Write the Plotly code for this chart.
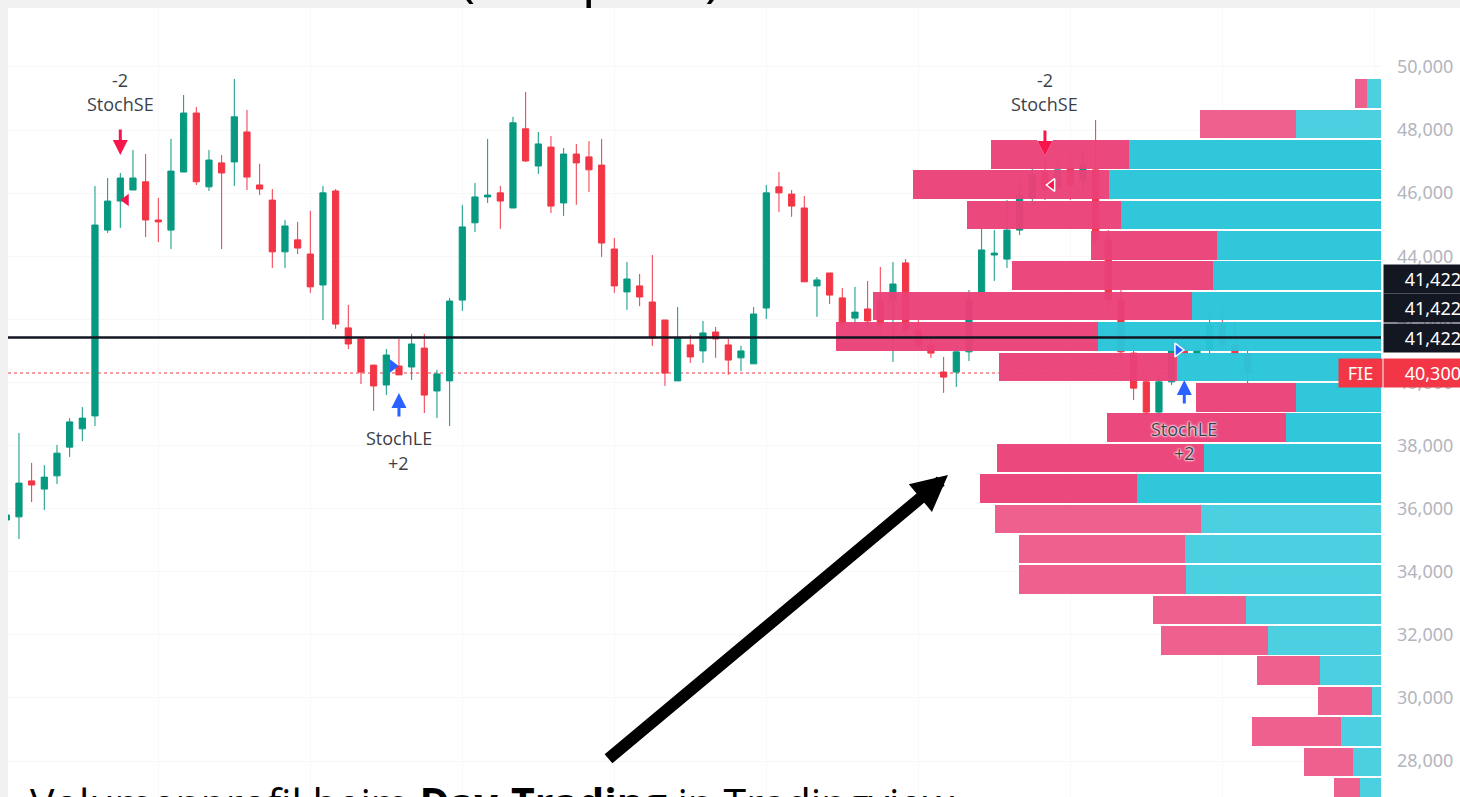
import plotly.graph_objects as go

# ---------------- candle data (price) ----------------
opens = [35640, 35740, 36880, 36620, 37040, 37950, 38530, 38940, 44830, 45750,
         46100, 46360, 45150, 44830, 46670, 48540, 46200, 46960, 46990, 47940,
         46260, 45780, 44140, 44520, 44070, 43090, 46070, 41730, 41380, 40550,
         39920, 40520, 40490, 41090, 39730, 40050, 42610, 45060, 45880, 46010,
         45530, 48040, 46860, 47460, 45690, 47240, 47150, 46890, 44230, 42870,
         43060, 42550, 41980, 40050, 41190, 41000, 41600, 41190, 40780, 40590,
         42360, 46200, 45970, 45530, 43060, 43470, 42680, 42040, 42330, 42610,
         42610, 43790, 41660, 41190, 40330, 40330, 40970, 42870, 44040, 43910,
         44830, 45850, 46670, 46160, 46800, 46420, 46740, 44520, 42610, 40930,
         40020, 39060, 40020, 41030, 40900, 41030, 41820, 41190, 40900]
highs = [35890, 38400, 37450, 37380, 38020, 38870, 39220, 46230, 46480, 46640,
         47370, 47240, 45850, 47720, 49110, 48730, 47370, 47210, 49620, 48640,
         46930, 46130, 45150, 45090, 45440, 46230, 46130, 42460, 41380, 40550,
         41060, 41380, 41540, 41540, 40400, 42680, 45630, 46320, 47720, 46230,
         48420, 49210, 47940, 47810, 47430, 47560, 47650, 47720, 44580, 43820,
         43440, 44040, 41980, 42390, 41500, 41950, 41760, 41380, 41160, 42390,
         46260, 46670, 46100, 45910, 43340, 43470, 42990, 43030, 43220, 43660,
         43820, 43910, 41980, 41500, 40810, 41190, 42930, 44900, 44830, 45780,
         46420, 46890, 47120, 47050, 47210, 47370, 48320, 44830, 42930, 41190,
         40240, 40240, 41350, 41190, 41190, 42230, 42390, 41920, 41030]
lows = [35550, 35040, 36210, 35960, 36780, 37640, 38140, 38620, 44740, 44900,
        46100, 44610, 44450, 44230, 46670, 46260, 46070, 44230, 46230, 46100,
        45940, 43630, 43630, 44070, 42840, 41980, 41700, 41060, 39950, 39100,
        39600, 40240, 40080, 39030, 38870, 38620, 42270, 44770, 45690, 44870,
        45530, 46990, 46610, 45370, 45280, 45630, 46040, 43980, 42840, 42300,
        42420, 41160, 39890, 40050, 40620, 40620, 40780, 40240, 40360, 40590,
        42010, 45400, 45250, 43190, 42080, 42490, 41600, 41890, 41660, 41500,
        40650, 41500, 41030, 40780, 39670, 39860, 40680, 42610, 43220, 43630,
        44670, 45620, 45780, 45940, 45780, 46100, 44360, 42300, 40710, 39440,
        38970, 38970, 39920, 40710, 40710, 40710, 41030, 40710, 39980]
closes = [35800, 36810, 36750, 37000, 37760, 38750, 38870, 44990, 45750, 46480,
          46480, 45150, 45090, 46700, 48540, 46360, 47050, 46640, 48420, 46510,
          46130, 44140, 44960, 44260, 43030, 46010, 41850, 41220, 40330, 39890,
          40870, 40240, 41220, 39600, 40270, 42580, 44930, 45880, 45940, 45750,
          48230, 47020, 47560, 45590, 47240, 46960, 46740, 44420, 43060, 43280,
          42710, 41410, 40300, 41410, 40810, 41570, 41380, 40710, 41000, 42170,
          46010, 46010, 45590, 43190, 43250, 42770, 41890, 42230, 41950, 41820,
          43120, 41660, 41190, 40930, 40170, 40970, 42610, 44200, 44100, 44830,
          45940, 46580, 46100, 46740, 46260, 46890, 44520, 42610, 40970, 39820,
          39060, 40020, 41030, 40900, 41030, 41820, 41190, 40900, 40300]
bar_index = list(range(len(opens)))

# ---------------- volume profile ----------------
vp_levels = [49160, 48197, 47234, 46271, 45308, 44345, 43382, 42419, 41456, 40493,
             39530, 38567, 37604, 36641, 35678, 34715, 33752, 32789, 31826, 30863,
             29900, 28937, 27974, 27011]
vp_up = [14, 85, 252, 272, 260, 164, 168, 189, 283, 204, 85, 95, 177, 244,
         180, 196, 195, 135, 113, 61, 9, 40, 28, 21]
vp_down = [12, 96, 138, 196, 154, 126, 201, 319, 262, 178, 100, 179, 207, 157,
           206, 166, 167, 93, 107, 63, 54, 89, 49, 26]
value_area = [False, False, True, True, True, True, True, True, True, True,
              True, True, True, True, False, False, False, False, False, False,
              False, False, False, False]

price_ticks = [28000, 30000, 32000, 34000, 36000, 38000, 40000, 42000, 44000,
               46000, 48000, 50000]
last_price = 40300
line_price = 41422

GREEN = "#089981"
RED = "#F23645"
up_cols = ["#29C5D9" if v else "#45CFE0" for v in value_area]
dn_cols = ["#EB4179" if v else "#EE5A8A" for v in value_area]

fig = go.Figure()

fig.add_trace(go.Candlestick(
    x=bar_index, open=opens, high=highs, low=lows, close=closes,
    increasing=dict(line=dict(color=GREEN, width=1), fillcolor=GREEN),
    decreasing=dict(line=dict(color=RED, width=1), fillcolor=RED),
    whiskerwidth=0, xaxis="x", yaxis="y", showlegend=False, hoverinfo="skip"))

fig.add_trace(go.Bar(y=vp_levels, x=vp_up, orientation="h", width=905,
                     marker=dict(color=up_cols, line=dict(width=0)), opacity=0.96,
                     xaxis="x2", yaxis="y", showlegend=False, hoverinfo="skip"))
fig.add_trace(go.Bar(y=vp_levels, x=vp_down, orientation="h", width=905,
                     marker=dict(color=dn_cols, line=dict(width=0)), opacity=0.96,
                     xaxis="x2", yaxis="y", showlegend=False, hoverinfo="skip"))

# signal markers (triangles)
fig.add_trace(go.Scatter(x=[9.45, 82.55], y=[45784, 46259], mode="markers",
                         marker=dict(symbol="triangle-left", size=11, color="#F7154B",
                                     line=dict(color=["rgba(0,0,0,0)", "white"], width=1.5)),
                         xaxis="x3", yaxis="y", showlegend=False, hoverinfo="skip"))
fig.add_trace(go.Scatter(x=[30.5, 92.5], y=[40522, 41029], mode="markers",
                         marker=dict(symbol="triangle-right", size=12, color="#2962FF",
                                     line=dict(color=["rgba(0,0,0,0)", "white"], width=1.5)),
                         xaxis="x3", yaxis="y", showlegend=False, hoverinfo="skip"))

XR = [0.134, 108.53]
YR = [26861, 51869]
PW, PH = 1373, 789

shapes = [
    dict(type="line", xref="paper", yref="y", x0=0, x1=1, y0=last_price, y1=last_price,
         line=dict(color=RED, width=1, dash="dot"), layer="below"),
    dict(type="line", xref="paper", yref="y", x0=0, x1=1, y0=line_price, y1=line_price,
         line=dict(color="#131722", width=2.5), layer="above"),
    # grey frame strips
    dict(type="rect", xref="paper", yref="paper", x0=-0.02, x1=1.1, y0=1, y1=1.05,
         fillcolor="#f1f1f1", line=dict(width=0), layer="above"),
    dict(type="rect", xref="paper", yref="paper", x0=-0.02, x1=0, y0=-0.05, y1=1.05,
         fillcolor="#f1f1f1", line=dict(width=0), layer="above"),
]

lab_font = dict(family="Open Sans, Noto Sans, sans-serif", size=18, color="#3b3f4a")
halo = "0 0 2px white, 0 0 2px white, 0 0 3px white"
anns = []
for xi, halo_on in [(9, False), (82, True)]:
    f = dict(lab_font, shadow=halo) if halo_on else lab_font
    anns.append(dict(x=xi, y=49588, xref="x", yref="y", text="-2", showarrow=False, font=f))
    anns.append(dict(x=xi, y=48827, xref="x", yref="y", text="StochSE", showarrow=False, font=f))
for xi, y1, y2, halo_on in [(31, 38240, 37447, False), (93, 38525, 37764, True)]:
    f = dict(lab_font, shadow=halo) if halo_on else lab_font
    anns.append(dict(x=xi, y=y1, xref="x", yref="y", text="StochLE", showarrow=False, font=f))
    anns.append(dict(x=xi, y=y2, xref="x", yref="y", text="+2", showarrow=False, font=f))

# signal arrows
for xi, yt, col, ay, outline in [(9, 47210, "#F7154B", -27, False), (82, 47179, "#F7154B", -27, True),
                                 (31, 39666, "#2962FF", 25, False), (93, 40078, "#2962FF", 25, True)]:
    if outline:
        anns.append(dict(x=xi, y=yt, xref="x", yref="y", ax=0, ay=ay, text="", showarrow=True,
                         arrowhead=2, arrowsize=0.75, arrowwidth=5, arrowcolor="white"))
    anns.append(dict(x=xi, y=yt, xref="x", yref="y", ax=0, ay=ay, text="", showarrow=True,
                     arrowhead=2, arrowsize=1.0, arrowwidth=3, arrowcolor=col))

# right-side price labels
px0 = (1383 - 8) / PW
box_font = dict(family="Noto Sans, sans-serif", size=18, color="white")
for yv, bg in [(43280, "#131722"), (42376, "#131722"), (41409, "#131722"), (40316, RED)]:
    txt = f"{last_price:,}" if bg == RED else f"{line_price:,}"
    anns.append(dict(x=px0, y=yv, xref="paper", yref="y", xanchor="left", yanchor="middle",
                     text=txt, showarrow=False, bgcolor=bg, width=77, height=28, borderpad=0,
                     align="right", font=box_font))
anns.append(dict(x=(1338 - 8) / PW, y=40316, xref="paper", yref="y", xanchor="left",
                 yanchor="middle", text="FIE", showarrow=False, bgcolor=RED, width=43,
                 height=28, borderpad=0, align="center", font=box_font))

# big black arrow
anns.append(dict(x=(948 - 8) / PW, y=(797 - 475) / PH, xref="paper", yref="paper",
                 ax=-341, ay=285, text="", showarrow=True, arrowhead=2, arrowsize=0.6,
                 arrowwidth=12, arrowcolor="black"))

anns.append(dict(x=(590 - 8) / PW, y=(797 + 27) / PH, xref="paper", yref="paper",
                 xanchor="center", yanchor="middle", text="(Beispiele)", showarrow=False,
                 font=dict(family="Open Sans, sans-serif", size=55, color="black")))
anns.append(dict(x=(28 - 8) / PW, y=(797 - 772) / PH, xref="paper", yref="paper",
                 xanchor="left", yanchor="top",
                 text="Volumenprofil beim <b>Day-Trading</b> in Tradingview",
                 showarrow=False,
                 font=dict(family="Open Sans, sans-serif", size=41, color="black")))

fig.update_layout(
    width=1460, height=797,
    margin=dict(l=8, r=79, t=8, b=0),
    paper_bgcolor="white", plot_bgcolor="white",
    barmode="stack", bargap=0,
    showlegend=False,
    xaxis=dict(range=XR, showgrid=True, gridcolor="#f8f8f8", dtick=12, zeroline=False,
               showticklabels=False, ticks="", rangeslider=dict(visible=False),
               fixedrange=True),
    xaxis2=dict(range=[PW, 0], overlaying="x", visible=False, fixedrange=True),
    xaxis3=dict(range=XR, overlaying="x", visible=False, fixedrange=True),
    yaxis=dict(range=YR, side="right", tickvals=price_ticks,
               ticktext=[f"{v:,}" for v in price_ticks],
               tickfont=dict(family="Noto Sans, sans-serif", size=18, color="#b2b5be"),
               ticklabelstandoff=15, showgrid=True, gridcolor="#f7f7f7",
               zeroline=False, showline=False, ticks=""),
    shapes=shapes,
    annotations=anns,
)

fig.write_html("out.html", config={"displayModeBar": False},
               post_script="document.body.style.margin='0';document.body.style.padding='0';")
